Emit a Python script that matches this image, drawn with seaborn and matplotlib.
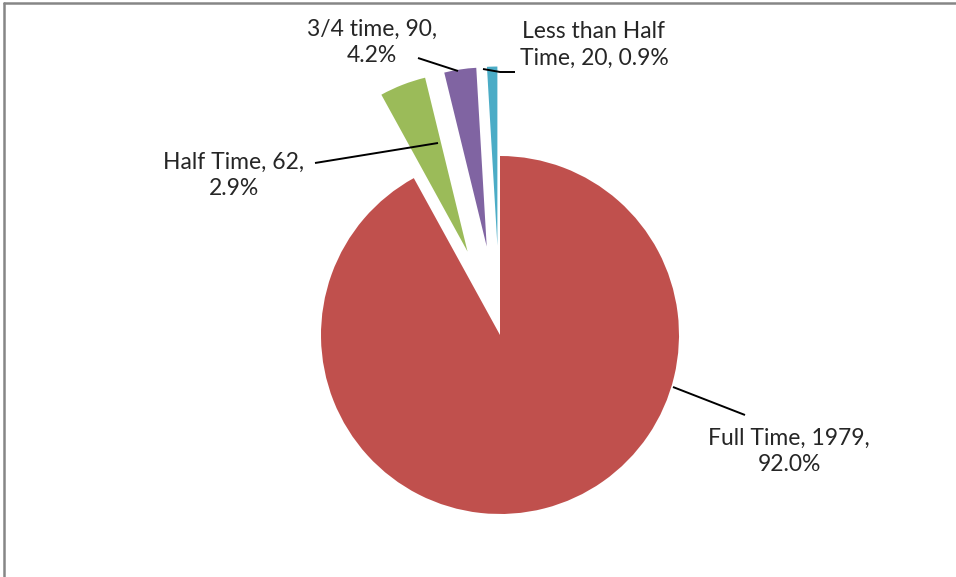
import matplotlib
matplotlib.use("Agg")
import matplotlib.pyplot as plt
import seaborn as sns
from matplotlib.lines import Line2D

# slices, clockwise from 12 o'clock
categories = ["Full Time", "3/4 time", "Half Time", "Less than Half Time"]
counts = [1979, 90, 62, 20]
colors = ["#C0504D", "#9BBB59", "#8064A2", "#4BACC6"]
explode = [0, 0.5, 0.5, 0.5]

# data label texts as shown on the chart
label_texts = ["Full Time, 1979,\n92.0%", "3/4 time, 90,\n4.2%",
               "Half Time, 62,\n2.9%", "Less than Half\nTime, 20, 0.9%"]

sns.set_theme(style="white")
plt.rcParams['font.family'] = ['Lato', 'DejaVu Sans']

W, H = 956, 577
fig = plt.figure(figsize=(W / 100, H / 100), dpi=100)
ax = fig.add_axes([0, 0, 1, 1])

R = 179.0           # pie radius in pixels
cx, cy = 500, 335   # pie centre in pixels (from top)

ax.pie(counts, colors=colors, explode=explode, startangle=90,
       counterclock=False, radius=1, wedgeprops=dict(linewidth=0))

ax.set_xlim(-cx / R, (W - cx) / R)
ax.set_ylim(-(H - cy) / R, cy / R)
ax.set_aspect("equal")
ax.axis("off")


def px(x, y):
    return (x - cx) / R, (cy - y) / R


# label positions (pixels) and leader lines
label_pos = [(789, 451), (372, 42), (234, 175), (594, 45)]
leaders = [
    [(673, 387), (745, 415)],
    [(418, 58), (458, 71)],
    [(315, 163), (438, 143)],
    [(483, 69), (500, 72), (515, 72)],
]

for txt, pos, pts in zip(label_texts, label_pos, leaders):
    x, y = px(*pos)
    ax.text(x, y, txt, ha="center", va="center", fontsize=16.5,
            color="#262626", linespacing=1.3, multialignment="center")
    xs, ys = zip(*[px(*p) for p in pts])
    ax.plot(xs, ys, color="black", lw=1.4, solid_capstyle="butt")

# chart border (top and left visible)
fig.add_artist(Line2D([4 / W, 1], [1 - 3 / H, 1 - 3 / H], color="#868686", lw=1.8))
fig.add_artist(Line2D([4 / W, 4 / W], [0, 1 - 3 / H], color="#868686", lw=1.8))

fig.savefig("out.png", dpi=100)
